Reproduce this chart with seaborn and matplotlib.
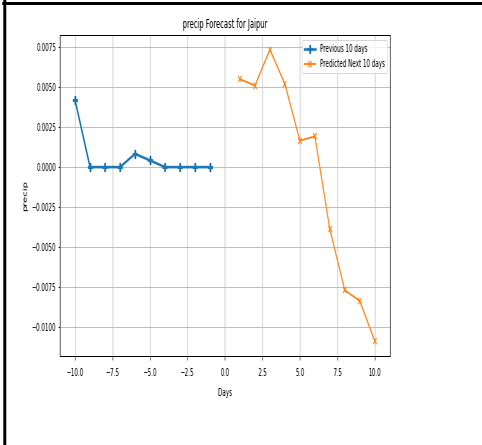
import io

import matplotlib
matplotlib.use("Agg")
import matplotlib.pyplot as plt
import seaborn as sns
from matplotlib.lines import Line2D
from PIL import Image

# Forecast data
city = "Jaipur"
variable = "precip"
past_days = [-10, -9, -8, -7, -6, -5, -4, -3, -2, -1]
past_values = [0.0042, 0.0, 0.0, 0.0, 0.00083, 0.00042, 0.0, 0.0, 0.0, 0.0]
future_days = [1, 2, 3, 4, 5, 6, 7, 8, 9, 10]
future_values = [0.0055, 0.0051, 0.00735, 0.0052, 0.00165, 0.00193,
                 -0.0039, -0.0077, -0.00837, -0.0109]

# The figure is drawn wide and then narrowed into the final 482x445 image
OUT_W, OUT_H = 482, 445
SQUEEZE = 0.56
DPI = 72
draw_w = OUT_W / SQUEEZE

plt.rcParams["font.family"] = ["DejaVu Sans"]
fig = plt.figure(figsize=(draw_w / DPI, OUT_H / DPI), dpi=DPI)
fig.patch.set_facecolor("white")
ax = fig.add_axes([60 / OUT_W, 1 - 356 / OUT_H, (389.5 - 60) / OUT_W, (356 - 35) / OUT_H])

sns.lineplot(x=past_days, y=past_values, ax=ax, color="#1f77b4",
             marker="P", markersize=8.5, linewidth=2.6,
             markeredgecolor="#1f77b4", markeredgewidth=1.2,
             label="Previous 10 days")
sns.lineplot(x=future_days, y=future_values, ax=ax, color="#ff7f0e",
             marker="x", markersize=6, linewidth=1.8,
             markeredgecolor="#ff7f0e", markeredgewidth=1.5,
             label="Predicted Next 10 days")

ax.set_title(f"{variable} Forecast for {city}", fontsize=12, pad=7)
ax.set_xlabel("Days", fontsize=10, labelpad=11)
ax.set_ylabel(variable, fontsize=10, labelpad=7)
ax.tick_params(axis="x", pad=8)
ax.grid(True, color="#b0b0b0", linewidth=0.8)
ax.set_axisbelow(True)
for side in ["left", "right", "top", "bottom"]:
    ax.spines[side].set_color("black")
    ax.spines[side].set_linewidth(1.0)
ax.legend(loc="upper right", fontsize=10)

# Frame lines along the left and top edges of the canvas
fig.add_artist(Line2D([4.5 / OUT_W, 4.5 / OUT_W], [0, 1 - 1 / OUT_H],
                      transform=fig.transFigure, color="black", linewidth=3 / SQUEEZE))
fig.add_artist(Line2D([3 / OUT_W, 1], [1 - 2.5 / OUT_H, 1 - 2.5 / OUT_H],
                      transform=fig.transFigure, color="black", linewidth=3))

buf = io.BytesIO()
fig.savefig(buf, format="png", dpi=DPI, facecolor="white")
buf.seek(0)
img = Image.open(buf).convert("RGB")
img = img.resize((OUT_W, OUT_H), Image.LANCZOS)
img.save("out.png")
